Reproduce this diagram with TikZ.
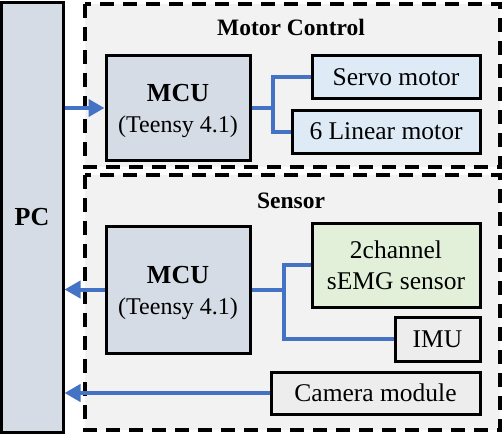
\documentclass[tikz,border=0pt]{standalone}
\usepackage{fontspec}
\setmainfont{Liberation Serif}
\usepackage{xcolor}
\usetikzlibrary{arrows.meta, calc}

\definecolor{McuFill}{HTML}{D6DCE5}
\definecolor{MotorFill}{HTML}{DEEBF7}
\definecolor{EmgFill}{HTML}{E2F0D9}
\definecolor{PlainFill}{HTML}{EDEDED}
\definecolor{GroupFill}{HTML}{F2F2F2}
\definecolor{LinkBlue}{HTML}{4472C4}

\newcommand{\mcutext}{{\fontsize{26}{31}\selectfont\bfseries MCU}\\(Teensy 4.1)}

\tikzset{
	unit/.style={draw=black, line width=3pt, rectangle, inner sep=0pt, align=center},
	group/.style={fill=GroupFill, draw=black, line width=4pt, dash pattern=on 14pt off 9pt},
	link/.style={draw=LinkBlue, line width=4pt},
	arrowlink/.style={link, -{Triangle[length=16pt, width=17pt]}},
	txt/.style={font=\fontsize{25.5}{31}\selectfont},
	mcufont/.style={align=center, inner sep=0pt, font=\fontsize{24}{31}\selectfont},
	ttl/.style={font=\fontsize{23.5}{27}\selectfont\bfseries}
}

\begin{document}
\begin{tikzpicture}[x=1pt, y=-1pt]

	\useasboundingbox (0,0) rectangle (502,433);

	% group frames
	\filldraw[group] (85,4) rectangle (500,167);
	\filldraw[group] (85,175) rectangle (500,430);
	\node[ttl] (ttlmotor) at (291,27) {Motor Control};
	\node[ttl] (ttlsensor) at (291,201) {Sensor};

	% PC
	\node[unit, fill=McuFill, minimum width=62pt, minimum height=429pt] (pc) at (32,217.5) {};
	\node[font=\fontsize{26}{30}\selectfont\bfseries] (pctext) at (32,217) {PC};

	% motor control
	\node[unit, fill=McuFill, minimum width=144pt, minimum height=104pt] (mcuA) at (178,108) {};
	\node[mcufont] (mcuAtext) at (178,111) {\mcutext};
	\node[unit, fill=MotorFill, txt, minimum width=168pt, minimum height=42pt] (servo) at (396,77) {Servo motor};
	\node[unit, fill=MotorFill, txt, minimum width=188pt, minimum height=43pt] (linear) at (386,131.5) {6 Linear motor};

	% sensor
	\node[unit, fill=McuFill, minimum width=144pt, minimum height=127pt] (mcuB) at (178,289.5) {};
	\node[mcufont] (mcuBtext) at (178,293) {\mcutext};
	\node[unit, fill=EmgFill, txt, minimum width=168pt, minimum height=84pt] (emg) at (396,265)
		{2channel\\sEMG sensor};
	\node[unit, fill=PlainFill, txt, minimum width=85pt, minimum height=44pt] (imu) at (437.5,339) {IMU};
	\node[unit, fill=PlainFill, txt, minimum width=209pt, minimum height=42pt] (cam) at (375.5,393) {Camera module};

	% links
	\draw[arrowlink] (pc.east |- mcuA.west) -- (mcuA.west);
	\draw[link] (mcuA.east) -- ++(21,0) coordinate (jA);
	\draw[link] (jA) |- (servo.west);
	\draw[link] (jA) |- (linear.west);

	\draw[link] (mcuB.east) -- ++(32,0) coordinate (jB);
	\draw[link] (jB) |- (emg.west);
	\draw[link] (jB) |- (imu.west);
	\draw[arrowlink] (mcuB.west) -- (pc.east |- mcuB.west);
	\draw[arrowlink] (cam.west) -- (pc.east |- cam.west);

\end{tikzpicture}
\end{document}
